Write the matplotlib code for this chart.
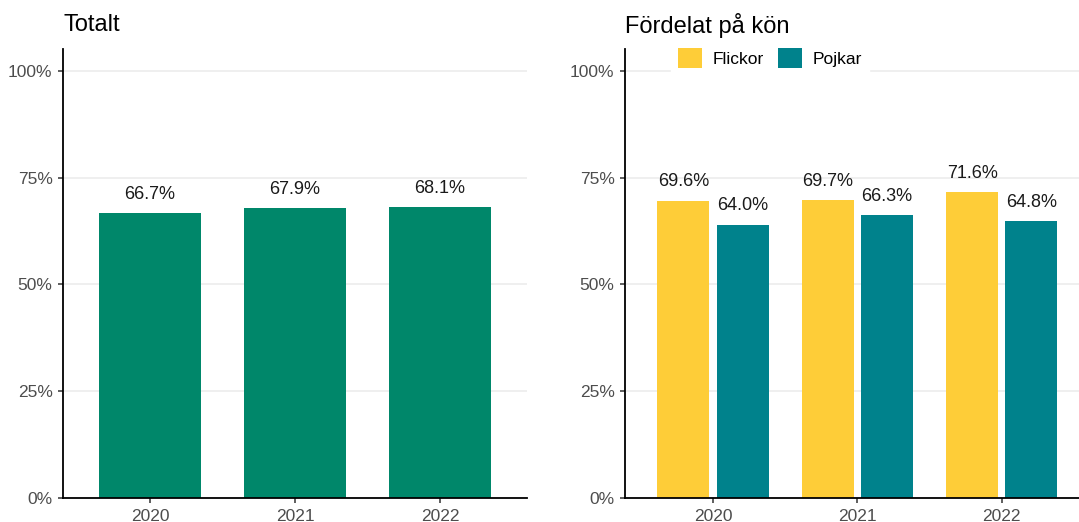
import numpy as np
import matplotlib
matplotlib.use("Agg")
import matplotlib.pyplot as plt
from matplotlib.patches import Patch

years = ["2020", "2021", "2022"]
totalt = [0.667, 0.679, 0.681]
flickor = [0.696, 0.697, 0.716]
pojkar = [0.640, 0.663, 0.648]
yticks = [0, 0.25, 0.5, 0.75, 1.0]
ytick_labels = ["0%", "25%", "50%", "75%", "100%"]

green = "#00876a"
yellow = "#fecd38"
teal = "#00828c"
grid_col = "#ebebeb"
tick_col = "#4d4d4d"

plt.rcParams['font.family'] = ['Liberation Sans', 'DejaVu Sans']

W, H = 1079, 522
fig = plt.figure(figsize=(W / 100, H / 100), dpi=100)


def px_axes(x0, x1, y_top, y_bot):
    return fig.add_axes([x0 / W, 1 - y_bot / H, (x1 - x0) / W, (y_bot - y_top) / H])


def style(ax, xlim):
    ax.set_xlim(*xlim)
    ax.set_ylim(0, 1.051)
    ax.set_yticks(yticks)
    ax.set_yticklabels(ytick_labels)
    ax.set_xticks(np.arange(1, len(years) + 1))
    ax.set_xticklabels(years)
    for s in ["top", "right"]:
        ax.spines[s].set_visible(False)
    for s in ["left", "bottom"]:
        ax.spines[s].set_linewidth(1.3)
        ax.spines[s].set_color("black")
    ax.tick_params(axis="both", colors=tick_col, labelsize=12.5, length=3.5, width=1.1)
    ax.tick_params(axis="both", color="#333333")
    ax.tick_params(axis="y", pad=4)
    ax.tick_params(axis="x", pad=4.5)
    ax.yaxis.grid(True, color=grid_col, linewidth=1.1)
    ax.set_axisbelow(True)


def bar_labels(ax, xs, vals):
    for xi, v in zip(xs, vals):
        ax.annotate(f"{v*100:.1f}%", (xi, v), xytext=(0, 13.5), textcoords="offset points",
                    ha="center", va="center", fontsize=13, color="#1a1a1a")


x = np.arange(1, len(years) + 1)

# vänster panel
ax1 = px_axes(63, 527, 49, 498)
style(ax1, (0.4, 3.6))
ax1.bar(x, totalt, width=0.7, color=green)
bar_labels(ax1, x, totalt)
fig.text(63 / W, 1 - 25 / H, "Totalt", fontsize=17, va="center", ha="left", color="black")

# höger panel
ax2 = px_axes(625, 1079, 49, 498)
style(ax2, (0.39, 3.535))
bw = 0.36
off = 0.205
ax2.bar(x - off, flickor, width=bw, color=yellow)
ax2.bar(x + off, pojkar, width=bw, color=teal)
bar_labels(ax2, x - off, flickor)
bar_labels(ax2, x + off, pojkar)
fig.text(625 / W, 1 - 25 / H, "Fördelat på kön", fontsize=17, va="center", ha="left", color="black")

handles = [Patch(facecolor=yellow, label="Flickor"), Patch(facecolor=teal, label="Pojkar")]
leg = ax2.legend(handles=handles, loc="center", bbox_to_anchor=(770 / W, 1 - 58 / H),
                 bbox_transform=fig.transFigure, ncol=2, frameon=True, fontsize=12.5,
                 handlelength=1.4, handleheight=1.4, handletextpad=0.6, columnspacing=0.8,
                 borderpad=0.4, fancybox=False, edgecolor="white", facecolor="white", framealpha=1)

fig.savefig("out.png", dpi=100, facecolor="white")
